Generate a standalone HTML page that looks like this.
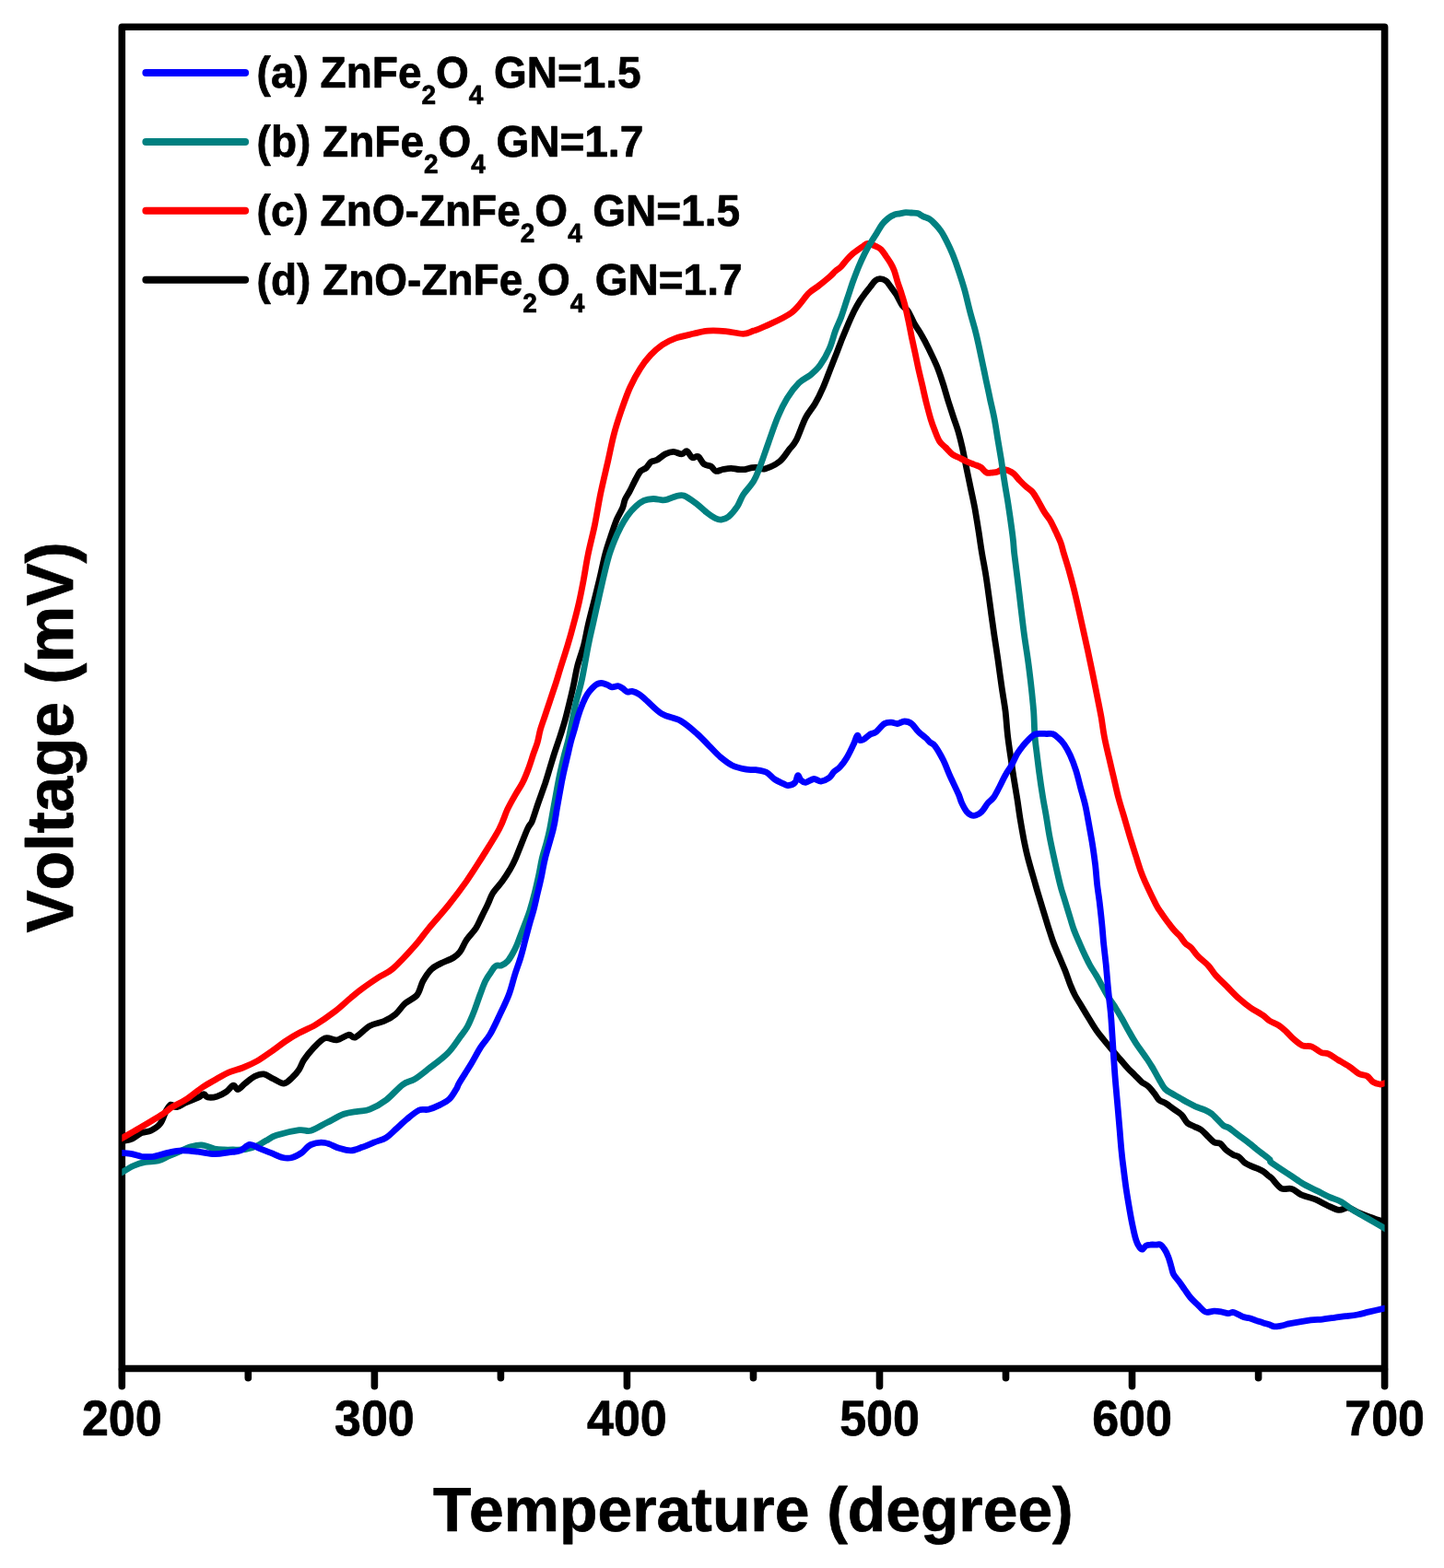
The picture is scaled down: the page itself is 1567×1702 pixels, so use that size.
<!DOCTYPE html>
<html lang="en">
<head>
<meta charset="utf-8">
<title>Voltage vs Temperature</title>
<style>
html,body{margin:0;padding:0;background:#fff;}
body{width:1567px;height:1702px;overflow:hidden;}
#chart{display:block;}
text{font-family:"Liberation Sans",sans-serif;font-weight:bold;fill:#000;stroke:#000;stroke-width:0.7px;stroke-linejoin:round;font-kerning:none;font-variant-ligatures:none;text-rendering:geometricPrecision;}
.crv{fill:none;stroke-width:6.8;stroke-linejoin:round;stroke-linecap:butt;}
.leg{font-size:46px;}
.sub{font-size:28px;}
.tick{font-size:52px;text-anchor:middle;}
</style>
</head>
<body>
<svg id="chart" width="1567" height="1702" viewBox="0 0 1567 1702">
<rect x="0" y="0" width="1567" height="1702" fill="#ffffff"/>
<g stroke="#000" stroke-width="7.6" fill="none" stroke-linecap="butt">
<rect x="132.3" y="29.2" width="1370.3" height="1456.3" stroke-linejoin="round"/>
<line x1="132.3" y1="1487.1" x2="132.3" y2="1504.8" stroke-linecap="round"/>
<line x1="406.4" y1="1487.1" x2="406.4" y2="1504.8" stroke-linecap="round"/>
<line x1="680.4" y1="1487.1" x2="680.4" y2="1504.8" stroke-linecap="round"/>
<line x1="954.5" y1="1487.1" x2="954.5" y2="1504.8" stroke-linecap="round"/>
<line x1="1228.5" y1="1487.1" x2="1228.5" y2="1504.8" stroke-linecap="round"/>
<line x1="1502.6" y1="1487.1" x2="1502.6" y2="1504.8" stroke-linecap="round"/>
<line x1="269.3" y1="1487.1" x2="269.3" y2="1495.8" stroke-linecap="round"/>
<line x1="543.4" y1="1487.1" x2="543.4" y2="1495.8" stroke-linecap="round"/>
<line x1="817.5" y1="1487.1" x2="817.5" y2="1495.8" stroke-linecap="round"/>
<line x1="1091.5" y1="1487.1" x2="1091.5" y2="1495.8" stroke-linecap="round"/>
<line x1="1365.6" y1="1487.1" x2="1365.6" y2="1495.8" stroke-linecap="round"/>
</g>
<svg x="132.3" y="0" width="1370.3" height="1702" viewBox="132.3 0 1370.3 1702" overflow="hidden">
<path class="crv" stroke="#000000" d="M128.3 1239.6C129.0 1239.4 129.8 1239.3 132.3 1238.7C134.8 1238.1 139.8 1237.6 143.4 1236.1C146.9 1234.6 150.2 1231.2 153.6 1229.7C157.0 1228.2 160.4 1228.9 163.8 1227.2C167.2 1225.5 171.3 1223.1 174.0 1219.5C176.8 1215.9 178.5 1208.9 180.4 1205.5C182.3 1202.1 183.6 1199.7 185.5 1199.1C187.4 1198.5 189.1 1202.1 191.9 1201.7C194.7 1201.2 198.3 1198.3 202.1 1196.6C205.9 1194.9 211.7 1192.9 214.9 1191.4C218.1 1190.0 219.5 1187.7 221.3 1187.6C223.0 1187.5 222.7 1190.5 225.1 1190.9C227.4 1191.4 231.9 1191.2 235.3 1190.2C238.7 1189.2 242.5 1187.1 245.5 1185.1C248.5 1183.1 251.0 1178.6 253.2 1178.2C255.3 1177.7 256.1 1182.9 258.3 1182.5C260.4 1182.2 262.9 1178.5 265.9 1176.1C268.9 1173.8 272.7 1170.2 276.1 1168.5C279.5 1166.8 282.9 1165.5 286.3 1165.9C289.7 1166.3 292.9 1169.3 296.6 1171.0C300.2 1172.7 304.6 1176.3 308.0 1176.1C311.4 1175.9 314.2 1172.3 317.0 1169.8C319.7 1167.2 322.5 1164.0 324.6 1160.8C326.8 1157.6 327.2 1154.4 329.7 1150.6C332.3 1146.8 336.1 1141.8 339.9 1137.8C343.8 1133.9 348.5 1128.4 352.7 1126.9C357.0 1125.4 361.2 1129.5 365.5 1128.9C369.7 1128.3 374.8 1123.8 378.2 1123.3C381.6 1122.8 382.1 1127.5 385.9 1125.8C389.7 1124.2 396.1 1116.5 401.2 1113.6C406.3 1110.7 411.8 1110.6 416.5 1108.5C421.2 1106.4 425.5 1104.0 429.3 1100.8C433.1 1097.6 435.6 1092.8 439.5 1089.3C443.4 1085.9 449.3 1084.0 452.6 1080.0C455.8 1076.0 456.4 1069.7 458.9 1065.1C461.5 1060.5 464.7 1055.5 467.9 1052.3C471.1 1049.1 474.0 1048.0 478.1 1045.9C482.1 1043.8 488.6 1041.7 492.1 1039.5C495.6 1037.4 496.8 1036.3 499.1 1033.2C501.5 1030.0 503.3 1024.7 506.2 1020.4C509.0 1016.1 513.6 1011.9 516.4 1007.6C519.1 1003.4 520.6 999.1 522.8 994.9C524.9 990.6 527.1 986.4 529.1 982.1C531.2 977.9 532.2 973.6 534.9 969.3C537.5 965.1 542.0 960.8 545.1 956.6C548.2 952.3 550.9 948.1 553.4 943.8C555.8 939.6 556.6 938.4 559.8 931.1C562.9 923.8 569.4 906.6 572.3 900.0C575.3 893.4 575.5 896.1 577.4 891.4C579.3 886.8 581.5 879.1 583.8 872.3C586.2 865.5 589.3 857.0 591.5 850.6C593.6 844.2 594.9 839.5 596.6 834.0C598.3 828.5 599.8 823.4 601.7 817.4C603.6 811.5 606.2 804.2 608.1 798.3C610.0 792.3 611.5 787.9 613.2 781.7C614.9 775.5 616.7 767.9 618.3 761.3C619.9 754.7 621.4 748.5 622.7 742.1C624.1 735.7 624.8 730.0 626.6 723.0C628.4 716.0 631.7 707.4 633.6 700.0C635.5 692.6 636.3 686.5 638.1 678.7C639.9 670.9 642.3 661.7 644.5 653.2C646.6 644.7 648.8 636.1 650.8 627.6C652.9 619.1 654.6 609.8 656.6 602.1C658.6 594.4 660.8 588.1 663.0 581.7C665.1 575.3 667.2 568.9 669.3 563.8C671.5 558.7 674.2 554.7 675.7 551.1C677.2 547.4 677.0 545.1 678.3 542.1C679.6 539.1 681.4 536.9 683.4 533.2C685.3 529.5 688.0 523.6 690.0 520.0C691.9 516.4 693.2 513.5 695.1 511.4C697.0 509.4 699.6 509.3 701.5 507.6C703.4 505.9 704.7 502.6 706.6 501.2C708.5 499.9 710.4 500.7 713.0 499.3C715.5 497.9 718.9 494.4 721.9 492.9C724.9 491.5 727.9 490.4 730.8 490.4C733.8 490.4 737.3 493.0 739.8 492.9C742.2 492.8 743.6 489.1 745.5 489.8C747.4 490.4 749.2 495.8 751.3 496.8C753.3 497.7 755.5 494.3 757.6 495.5C759.8 496.7 761.7 502.0 764.0 503.8C766.4 505.6 769.5 505.1 771.7 506.3C773.8 507.6 774.7 510.9 776.8 511.4C778.9 512.0 781.7 510.1 784.4 509.5C787.2 509.0 790.6 508.3 793.4 508.3C796.1 508.3 798.5 509.3 801.0 509.5C803.6 509.7 806.1 509.9 808.7 509.5C811.2 509.2 813.8 507.9 816.3 507.6C818.9 507.3 821.7 507.4 824.0 507.6C826.3 507.8 826.3 510.0 830.0 508.9C833.7 507.8 841.7 504.3 846.1 500.8C850.5 497.4 853.3 491.9 856.3 488.1C859.3 484.2 861.0 483.6 864.0 477.9C867.0 472.1 870.8 460.2 874.2 453.6C877.6 447.0 881.2 443.8 884.4 438.3C887.6 432.8 890.5 426.8 893.3 420.4C896.1 414.0 898.9 406.1 901.3 400.0C903.7 393.9 905.5 389.3 907.7 383.8C909.8 378.3 911.9 372.5 914.0 367.2C916.2 361.9 918.3 356.8 920.4 351.9C922.5 347.0 924.7 342.1 926.8 337.8C928.9 333.6 931.1 329.8 933.2 326.4C935.3 323.0 937.7 320.0 939.6 317.4C941.5 314.9 943.0 313.2 944.7 311.0C946.4 308.9 948.1 306.0 949.8 304.7C951.5 303.3 953.0 302.7 954.9 302.7C956.8 302.7 959.3 303.3 961.3 304.7C963.2 306.0 964.5 308.5 966.4 311.0C968.3 313.6 970.6 316.6 972.8 320.0C974.9 323.4 977.0 328.5 979.1 331.5C981.3 334.4 983.4 334.7 985.5 337.8C987.6 341.0 989.8 346.8 991.9 350.6C994.0 354.4 996.1 357.2 998.3 360.8C1000.4 364.4 1002.5 368.3 1004.7 372.3C1006.8 376.3 1008.9 380.5 1011.0 385.1C1013.2 389.7 1015.6 394.7 1017.7 400.0C1019.7 405.3 1021.5 410.6 1023.4 416.6C1025.3 422.5 1027.2 429.6 1029.1 435.7C1031.1 441.9 1033.1 448.1 1034.9 453.6C1036.7 459.1 1038.4 463.4 1040.0 468.9C1041.6 474.5 1043.0 480.2 1044.5 486.8C1045.9 493.4 1047.4 501.3 1048.9 508.5C1050.4 515.7 1051.9 523.0 1053.4 530.2C1054.9 537.4 1056.5 544.4 1057.9 551.9C1059.2 559.3 1060.4 566.8 1061.7 574.9C1063.0 582.9 1064.1 591.6 1065.5 600.0C1066.9 608.4 1068.5 616.0 1070.0 625.5C1071.5 635.1 1073.0 646.8 1074.5 657.4C1075.9 668.1 1077.5 679.8 1078.9 689.3C1080.3 698.9 1081.4 705.3 1082.8 714.9C1084.1 724.4 1085.8 737.2 1087.2 746.8C1088.6 756.3 1090.0 763.6 1091.1 772.3C1092.1 781.0 1092.6 790.8 1093.6 799.1C1094.6 807.4 1095.7 814.7 1096.8 822.1C1097.9 829.6 1098.8 836.4 1100.0 843.8C1101.2 851.3 1102.6 859.3 1103.8 866.8C1105.0 874.2 1105.8 881.3 1107.0 888.5C1108.2 895.7 1109.5 903.2 1110.8 910.2C1112.2 917.2 1113.2 922.3 1115.3 930.6C1117.4 938.9 1121.5 952.5 1123.6 960.0C1125.7 967.5 1126.5 970.0 1128.1 975.3C1129.7 980.6 1131.5 986.4 1133.2 991.9C1134.9 997.4 1136.6 1003.2 1138.3 1008.5C1140.0 1013.8 1141.5 1018.7 1143.4 1023.8C1145.3 1028.9 1147.6 1034.0 1149.8 1039.1C1151.9 1044.2 1154.2 1049.6 1156.2 1054.4C1158.1 1059.3 1159.6 1064.2 1161.3 1068.5C1163.0 1072.7 1164.2 1075.9 1166.4 1080.0C1168.5 1084.0 1171.5 1088.5 1174.0 1092.7C1176.6 1097.0 1178.9 1101.0 1181.7 1105.5C1184.5 1110.0 1187.4 1115.1 1190.6 1119.5C1193.8 1124.0 1196.6 1127.2 1200.8 1132.3C1205.0 1137.4 1212.0 1145.6 1215.7 1150.0C1219.5 1154.4 1220.8 1156.2 1223.4 1158.9C1225.9 1161.7 1228.5 1164.0 1231.1 1166.6C1233.6 1169.1 1236.2 1172.1 1238.7 1174.3C1241.3 1176.4 1244.0 1177.2 1246.4 1179.4C1248.7 1181.5 1250.8 1184.6 1252.8 1187.0C1254.7 1189.5 1255.7 1192.2 1257.9 1194.0C1260.0 1195.8 1263.0 1196.3 1265.5 1197.9C1268.1 1199.5 1270.4 1201.6 1273.2 1203.6C1275.9 1205.6 1279.6 1207.4 1282.1 1210.0C1284.7 1212.5 1286.1 1216.8 1288.5 1218.9C1290.8 1221.0 1293.6 1221.5 1296.1 1222.8C1298.7 1224.0 1301.3 1224.7 1303.8 1226.6C1306.4 1228.5 1309.1 1232.0 1311.5 1234.2C1313.8 1236.5 1315.7 1238.8 1317.8 1240.0C1320.0 1241.2 1322.1 1239.9 1324.2 1241.3C1326.4 1242.6 1328.3 1246.3 1330.6 1248.3C1332.9 1250.3 1335.9 1252.1 1338.3 1253.4C1340.6 1254.7 1342.5 1254.4 1344.6 1255.9C1346.8 1257.4 1348.7 1260.6 1351.0 1262.3C1353.4 1264.0 1356.3 1265.1 1358.7 1266.1C1361.0 1267.2 1362.9 1267.7 1365.1 1268.7C1367.2 1269.7 1369.5 1270.6 1371.4 1271.9C1373.4 1273.2 1375.1 1275.2 1376.6 1276.4C1378.0 1277.5 1377.7 1276.7 1380.0 1278.9C1382.3 1281.2 1386.7 1288.0 1390.4 1289.9C1394.0 1291.8 1398.2 1289.2 1401.8 1290.4C1405.5 1291.5 1407.8 1294.9 1412.1 1296.8C1416.3 1298.7 1422.7 1300.0 1427.4 1301.9C1432.0 1303.8 1435.9 1306.3 1440.1 1308.3C1444.4 1310.2 1449.1 1312.9 1452.9 1313.4C1456.7 1313.8 1459.7 1310.4 1463.1 1310.8C1466.5 1311.2 1469.5 1314.2 1473.3 1315.9C1477.1 1317.6 1481.2 1319.2 1486.1 1321.0C1491.0 1322.8 1499.2 1325.5 1502.6 1326.6C1506.0 1327.8 1505.9 1327.8 1506.6 1328.0"/>
<path class="crv" stroke="#ff0000" d="M128.3 1237.6C129.0 1237.3 128.5 1237.5 132.3 1235.4C136.1 1233.2 143.7 1229.0 151.1 1224.6C158.4 1220.3 170.6 1213.1 176.6 1209.3C182.5 1205.5 182.5 1204.3 186.8 1201.7C191.0 1199.0 196.6 1196.9 202.1 1193.2C207.6 1189.6 214.4 1183.7 220.0 1180.0C225.5 1176.3 230.6 1173.7 235.3 1171.0C240.0 1168.4 243.4 1166.1 248.1 1164.1C252.7 1162.1 258.3 1161.1 263.4 1159.0C268.5 1157.0 273.6 1154.8 278.7 1151.9C283.8 1149.0 288.5 1145.5 294.0 1141.7C299.5 1137.8 306.8 1132.3 311.9 1128.9C317.0 1125.5 319.5 1124.0 324.6 1121.3C329.7 1118.5 336.1 1116.1 342.5 1112.3C348.9 1108.5 356.5 1103.2 362.9 1098.3C369.3 1093.4 375.7 1087.2 380.8 1083.0C385.9 1078.7 388.4 1076.5 393.6 1072.8C398.7 1069.0 405.9 1064.1 411.4 1060.5C417.0 1056.9 420.3 1056.7 426.7 1051.1C433.2 1045.4 443.6 1034.0 450.0 1026.8C456.4 1019.5 459.1 1015.1 465.3 1007.6C471.5 1000.2 480.2 990.6 487.0 982.1C493.8 973.6 500.2 965.1 506.2 956.6C512.1 948.1 516.8 940.5 522.8 931.1C528.7 921.6 537.1 908.7 541.7 900.0C546.3 891.3 547.7 885.0 550.6 878.7C553.6 872.4 556.8 867.0 559.6 862.1C562.3 857.2 564.9 854.0 567.2 849.3C569.6 844.7 571.7 839.1 573.6 834.0C575.5 828.9 577.1 823.4 578.7 818.7C580.3 814.0 581.9 810.4 583.2 805.9C584.5 801.5 585.0 796.8 586.4 791.9C587.8 787.0 589.8 781.7 591.5 776.6C593.2 771.5 594.7 767.0 596.6 761.3C598.5 755.5 601.0 748.1 603.0 742.1C604.9 736.2 605.9 732.5 608.1 725.5C610.3 718.5 613.8 707.8 616.1 700.0C618.5 692.2 620.1 686.5 622.1 678.7C624.2 670.9 626.6 661.7 628.5 653.2C630.4 644.7 632.0 636.1 633.6 627.6C635.2 619.1 636.1 611.7 638.1 602.1C640.0 592.5 643.1 581.1 645.4 570.0C647.7 558.9 649.4 547.0 651.8 535.4C654.2 523.8 657.4 510.9 659.8 500.3C662.2 489.6 663.8 480.6 666.2 471.6C668.5 462.5 671.2 454.5 674.1 446.0C677.1 437.5 680.2 428.2 683.7 420.5C687.2 412.8 691.1 405.6 694.9 399.8C698.6 393.9 702.0 389.7 706.0 385.4C710.0 381.2 714.3 377.3 718.8 374.2C723.3 371.2 727.6 369.1 733.2 367.1C738.7 365.1 746.5 363.6 752.3 362.3C758.2 360.9 762.4 359.5 768.3 359.1C774.1 358.6 781.0 359.0 787.4 359.6C793.8 360.1 801.5 362.4 806.5 362.3C811.6 362.2 813.8 360.4 817.7 359.1C821.6 357.8 823.1 357.6 830.0 354.3C836.9 351.0 851.5 345.1 859.3 339.1C867.2 333.2 872.5 323.4 877.2 318.7C881.9 314.0 883.6 314.0 887.4 311.0C891.2 308.1 896.8 303.6 900.0 300.8C903.2 298.1 904.3 296.4 906.4 294.4C908.5 292.5 910.6 291.5 912.8 289.3C914.9 287.2 917.0 284.0 919.1 281.7C921.3 279.3 923.6 277.0 925.5 275.3C927.4 273.6 928.7 272.9 930.6 271.5C932.5 270.1 935.1 268.2 937.0 267.0C938.9 265.8 939.8 264.3 942.1 264.5C944.5 264.6 948.7 266.6 951.1 267.6C953.4 268.7 954.5 269.1 956.2 270.8C957.9 272.5 959.6 275.4 961.3 277.9C963.0 280.3 964.9 283.0 966.4 285.5C967.9 288.1 968.9 289.8 970.2 293.2C971.5 296.6 972.8 301.9 974.0 305.9C975.3 310.0 976.6 313.4 977.9 317.4C979.1 321.5 980.4 325.3 981.7 330.2C983.0 335.1 984.2 340.8 985.5 346.8C986.8 352.7 988.1 359.8 989.3 365.9C990.6 372.1 992.0 378.1 993.2 383.8C994.4 389.5 995.3 394.1 996.6 400.0C997.9 405.9 999.6 412.8 1001.1 419.1C1002.5 425.5 1004.0 432.3 1005.5 438.3C1007.0 444.2 1008.5 450.0 1010.0 454.9C1011.5 459.8 1012.9 463.6 1014.5 467.6C1016.1 471.7 1017.7 476.2 1019.6 479.1C1021.5 482.1 1023.6 483.2 1025.9 485.5C1028.3 487.9 1031.1 491.3 1033.6 493.2C1036.2 495.1 1038.7 495.7 1041.3 497.0C1043.8 498.3 1046.4 499.7 1048.9 500.8C1051.5 502.0 1054.0 503.0 1056.6 504.0C1059.1 505.1 1061.9 505.7 1064.2 507.2C1066.6 508.7 1068.5 512.0 1070.6 513.0C1072.7 513.9 1075.1 513.1 1077.0 513.0C1078.9 512.8 1080.4 512.8 1082.1 512.3C1083.8 511.8 1085.3 510.1 1087.2 509.8C1089.1 509.4 1091.5 509.7 1093.6 510.4C1095.7 511.1 1097.8 512.4 1100.0 514.2C1102.1 516.0 1104.2 519.0 1106.4 521.3C1108.5 523.5 1110.4 525.5 1112.7 527.6C1115.1 529.8 1118.1 531.2 1120.4 534.0C1122.7 536.8 1124.7 540.6 1126.8 544.2C1128.9 547.8 1131.0 552.3 1133.2 555.7C1135.3 559.1 1137.4 561.0 1139.5 564.6C1141.7 568.3 1144.0 573.4 1145.9 577.4C1147.8 581.5 1149.6 585.1 1151.0 588.9C1152.4 592.7 1152.7 595.0 1154.2 600.0C1155.7 605.0 1158.2 612.8 1160.0 619.1C1161.8 625.5 1163.4 631.5 1165.1 638.3C1166.8 645.1 1168.5 652.5 1170.2 660.0C1171.9 667.4 1173.6 675.3 1175.3 683.0C1177.0 690.6 1178.7 698.1 1180.4 705.9C1182.1 713.8 1183.8 721.9 1185.5 730.2C1187.2 738.5 1189.0 747.6 1190.6 755.7C1192.2 763.8 1193.8 771.4 1195.1 778.7C1196.3 785.9 1196.9 791.9 1198.3 799.1C1199.6 806.4 1201.7 814.7 1203.4 822.1C1205.1 829.6 1206.8 836.6 1208.5 843.8C1210.2 851.0 1211.7 858.3 1213.6 865.5C1215.5 872.7 1217.8 880.0 1220.0 887.2C1222.1 894.4 1224.2 901.9 1226.3 908.9C1228.5 915.9 1230.4 922.3 1232.7 929.3C1235.0 936.3 1236.4 942.3 1240.0 951.0C1243.6 959.8 1251.0 974.9 1254.4 981.7C1257.9 988.5 1258.7 988.7 1260.8 991.9C1262.9 995.1 1265.1 998.0 1267.2 1000.8C1269.3 1003.7 1271.5 1006.7 1273.6 1009.1C1275.7 1011.6 1277.8 1013.1 1280.0 1015.5C1282.1 1018.0 1284.2 1021.6 1286.3 1023.8C1288.5 1026.0 1290.4 1026.6 1292.7 1028.9C1295.0 1031.3 1296.9 1034.7 1300.0 1037.9C1303.1 1041.0 1308.1 1044.7 1311.2 1048.1C1314.4 1051.5 1315.5 1054.4 1318.9 1058.3C1322.3 1062.1 1327.4 1066.8 1331.7 1071.0C1335.9 1075.3 1340.2 1080.0 1344.4 1083.8C1348.7 1087.6 1352.9 1091.0 1357.2 1094.0C1361.4 1097.0 1366.5 1099.3 1369.9 1101.7C1373.4 1104.0 1374.6 1106.1 1377.6 1108.0C1380.6 1110.0 1384.8 1111.2 1387.8 1113.1C1390.8 1115.1 1392.9 1117.2 1395.5 1119.5C1398.0 1121.9 1400.2 1124.6 1403.1 1127.2C1406.1 1129.7 1409.9 1133.4 1413.3 1134.8C1416.7 1136.3 1420.2 1134.8 1423.6 1136.1C1427.0 1137.4 1430.8 1141.2 1433.8 1142.5C1436.7 1143.8 1438.4 1142.5 1441.4 1143.8C1444.4 1145.1 1447.8 1147.8 1451.6 1150.2C1455.5 1152.5 1460.6 1155.3 1464.4 1157.8C1468.2 1160.4 1471.4 1163.8 1474.6 1165.5C1477.8 1167.2 1481.0 1166.5 1483.5 1168.0C1486.1 1169.5 1487.6 1172.9 1489.9 1174.4C1492.3 1175.9 1495.5 1176.7 1497.6 1177.0C1499.7 1177.2 1501.1 1176.1 1502.6 1175.7C1504.1 1175.3 1505.9 1174.8 1506.6 1174.7"/>
<path class="crv" stroke="#008080" d="M128.3 1274.8C129.0 1274.4 129.6 1274.1 132.3 1272.5C135.0 1271.0 140.5 1267.4 144.7 1265.5C148.9 1263.6 153.0 1262.2 157.4 1261.3C161.9 1260.4 167.2 1261.1 171.5 1260.0C175.7 1259.0 178.9 1256.7 183.0 1254.9C187.0 1253.2 191.9 1251.2 195.7 1249.6C199.6 1247.9 202.1 1246.2 205.9 1245.1C209.8 1244.0 214.2 1242.6 218.7 1242.9C223.2 1243.2 228.7 1246.1 232.7 1247.0C236.8 1247.9 239.5 1247.9 242.9 1248.0C246.4 1248.2 249.3 1248.1 253.2 1248.0C257.0 1248.0 261.7 1248.3 265.9 1247.6C270.2 1246.9 274.9 1245.4 278.7 1243.8C282.5 1242.2 285.3 1240.0 288.9 1238.1C292.4 1236.2 294.0 1234.2 300.0 1232.3C306.0 1230.4 318.4 1227.5 324.6 1226.7C330.9 1225.8 332.3 1228.6 337.4 1227.2C342.5 1225.8 349.3 1221.2 355.3 1218.3C361.2 1215.3 367.6 1211.3 373.1 1209.3C378.7 1207.3 383.8 1207.1 388.4 1206.3C393.1 1205.4 396.1 1206.3 401.2 1204.2C406.3 1202.2 413.1 1198.5 419.1 1194.0C425.0 1189.5 431.8 1181.2 436.9 1177.4C442.1 1173.6 445.3 1174.3 450.0 1171.4C454.7 1168.5 459.4 1164.6 465.3 1159.9C471.3 1155.2 480.2 1148.9 485.7 1143.3C491.3 1137.8 494.9 1131.6 498.5 1126.7C502.1 1121.8 504.7 1119.1 507.4 1114.0C510.2 1108.9 512.9 1101.8 515.1 1096.1C517.3 1090.4 518.9 1085.2 520.8 1080.0C522.8 1074.8 524.6 1069.3 526.6 1065.1C528.6 1060.9 531.0 1057.6 533.0 1054.9C534.9 1052.1 536.2 1049.6 538.1 1048.5C540.0 1047.3 542.3 1048.7 544.4 1047.8C546.6 1047.0 548.9 1045.4 550.8 1043.4C552.7 1041.3 554.2 1038.7 555.9 1035.7C557.6 1032.7 559.6 1028.9 561.0 1025.5C562.5 1022.1 563.3 1019.3 564.9 1015.3C566.4 1011.3 568.6 1005.8 570.3 1001.3C572.0 996.8 573.2 993.8 574.9 988.5C576.5 983.2 578.6 975.7 580.2 969.3C581.8 962.9 583.2 956.6 584.6 950.2C586.0 943.8 587.0 937.0 588.4 931.1C589.8 925.2 591.6 920.2 593.0 915.0C594.4 909.8 595.4 906.0 596.6 900.0C597.8 894.0 599.1 885.9 600.4 878.7C601.7 871.5 603.1 863.4 604.3 857.0C605.5 850.6 606.2 846.4 607.5 840.4C608.8 834.4 610.3 827.7 611.9 821.3C613.5 814.9 615.5 808.5 617.0 802.1C618.5 795.7 619.5 789.4 620.8 783.0C622.1 776.6 623.0 771.3 624.7 763.8C626.4 756.3 629.0 748.9 631.3 738.3C633.6 727.7 636.5 709.9 638.5 700.0C640.4 690.1 641.4 686.5 643.2 678.7C644.9 670.9 647.0 661.7 648.9 653.2C650.8 644.7 652.8 635.7 654.7 627.6C656.6 619.5 658.4 611.5 660.4 604.7C662.4 597.9 664.7 592.1 666.8 586.8C668.9 581.5 670.8 577.2 673.2 572.8C675.5 568.3 678.1 563.8 680.8 560.0C683.6 556.2 686.8 552.5 689.8 549.8C692.7 547.0 695.5 544.8 698.7 543.4C701.9 542.0 705.5 541.6 708.9 541.5C712.3 541.4 716.6 542.7 719.1 542.8C721.7 542.9 721.9 542.8 724.2 542.1C726.6 541.5 730.2 539.6 733.2 538.9C736.1 538.2 738.4 536.8 742.1 538.0C745.8 539.3 751.4 543.5 755.5 546.5C759.6 549.6 763.2 553.5 766.7 556.1C770.1 558.8 773.6 561.2 776.2 562.5C778.9 563.8 780.2 564.4 782.6 564.1C785.0 563.8 787.7 563.3 790.6 560.9C793.5 558.5 797.5 553.7 800.2 549.7C802.8 545.7 803.6 541.5 806.5 537.0C809.5 532.5 814.8 527.4 817.7 522.6C820.6 517.8 821.4 515.2 824.1 508.3C826.8 501.3 830.5 490.0 833.8 480.8C837.1 471.5 840.6 460.8 844.0 452.7C847.4 444.6 850.4 438.5 854.2 432.3C858.0 426.1 862.7 420.0 867.0 415.7C871.2 411.4 875.9 410.0 879.7 406.8C883.6 403.6 886.6 401.2 889.9 396.6C893.3 391.9 897.3 384.9 900.0 378.7C902.7 372.5 904.3 365.3 906.4 359.5C908.5 353.8 910.6 350.0 912.8 344.2C914.9 338.5 917.0 331.5 919.1 325.1C921.3 318.7 923.4 311.9 925.5 305.9C927.7 300.0 929.8 294.4 931.9 289.3C934.0 284.2 936.2 279.6 938.3 275.3C940.4 271.0 942.5 267.4 944.7 263.8C946.8 260.2 948.9 257.0 951.1 253.6C953.2 250.2 955.3 246.2 957.4 243.4C959.6 240.6 961.7 238.7 963.8 237.0C965.9 235.3 968.1 234.0 970.2 233.2C972.3 232.3 974.5 232.3 976.6 231.9C978.7 231.5 980.8 230.8 983.0 230.6C985.1 230.5 987.2 230.9 989.3 231.0C991.5 231.2 993.6 230.8 995.7 231.5C997.9 232.2 1000.0 234.1 1002.1 235.1C1004.2 236.1 1006.4 236.3 1008.5 237.7C1010.6 239.0 1012.7 241.2 1014.9 243.4C1017.0 245.6 1019.1 247.9 1021.3 251.1C1023.4 254.2 1025.5 258.3 1027.6 262.5C1029.8 266.8 1031.9 271.3 1034.0 276.6C1036.1 281.9 1038.3 288.1 1040.4 294.4C1042.5 300.8 1044.7 307.2 1046.8 314.9C1048.9 322.5 1051.0 332.3 1053.2 340.4C1055.3 348.5 1057.2 353.4 1059.5 363.4C1061.9 373.3 1065.6 391.3 1067.4 400.0C1069.3 408.7 1069.4 409.8 1070.6 415.3C1071.8 420.8 1073.1 426.8 1074.4 433.2C1075.8 439.6 1077.5 446.4 1078.9 453.6C1080.3 460.8 1081.5 468.9 1082.7 476.6C1084.0 484.2 1085.4 492.1 1086.6 499.6C1087.7 507.0 1088.6 513.8 1089.8 521.3C1090.9 528.7 1092.4 536.8 1093.6 544.2C1094.8 551.7 1095.8 559.1 1096.8 565.9C1097.7 572.7 1098.7 579.4 1099.3 585.1C1100.0 590.7 1099.9 593.3 1100.6 600.0C1101.4 606.7 1102.6 616.0 1103.8 625.5C1105.0 635.1 1106.4 646.8 1107.6 657.4C1108.9 668.1 1110.2 679.8 1111.5 689.3C1112.8 698.9 1114.1 706.4 1115.3 714.9C1116.5 723.4 1117.4 730.8 1118.5 740.4C1119.6 750.0 1120.9 762.5 1121.7 772.3C1122.4 782.1 1122.3 791.1 1123.0 799.1C1123.6 807.2 1124.7 813.8 1125.5 820.8C1126.4 827.9 1127.1 834.2 1128.1 841.3C1129.0 848.3 1130.1 855.7 1131.3 863.0C1132.4 870.2 1133.8 877.2 1135.1 884.7C1136.4 892.1 1137.5 900.2 1138.9 907.6C1140.3 915.1 1141.5 920.6 1143.4 929.3C1145.3 938.1 1148.5 952.3 1150.4 960.0C1152.3 967.7 1153.3 970.0 1154.9 975.3C1156.5 980.6 1158.3 986.4 1160.0 991.9C1161.7 997.4 1163.2 1003.2 1165.1 1008.5C1167.0 1013.8 1169.3 1018.9 1171.5 1023.8C1173.6 1028.7 1175.9 1033.8 1177.9 1037.9C1179.8 1041.9 1181.0 1044.7 1183.0 1048.1C1184.9 1051.5 1187.2 1054.7 1189.3 1058.3C1191.5 1061.9 1193.6 1065.9 1195.7 1069.8C1197.9 1073.6 1199.8 1077.4 1202.1 1081.3C1204.4 1085.1 1207.2 1088.7 1209.8 1092.7C1212.3 1096.8 1214.9 1101.0 1217.4 1105.5C1220.0 1110.0 1222.5 1115.1 1225.1 1119.5C1227.6 1124.0 1229.4 1127.2 1232.7 1132.3C1236.1 1137.4 1242.0 1145.3 1245.1 1150.0C1248.2 1154.7 1249.3 1156.6 1251.5 1160.2C1253.6 1163.8 1255.7 1168.1 1257.9 1171.7C1260.0 1175.3 1261.9 1179.4 1264.2 1181.9C1266.6 1184.5 1269.1 1185.3 1271.9 1187.0C1274.7 1188.7 1278.1 1190.5 1280.8 1192.1C1283.6 1193.7 1285.7 1195.1 1288.5 1196.6C1291.3 1198.1 1294.2 1199.7 1297.4 1201.1C1300.6 1202.4 1304.7 1203.5 1307.6 1204.9C1310.6 1206.3 1313.0 1207.5 1315.3 1209.3C1317.6 1211.2 1319.5 1213.6 1321.7 1215.7C1323.8 1217.9 1326.1 1220.7 1328.1 1222.1C1330.0 1223.5 1331.0 1222.8 1333.2 1224.0C1335.3 1225.3 1338.3 1227.9 1340.8 1229.8C1343.4 1231.7 1345.9 1233.6 1348.5 1235.5C1351.0 1237.4 1353.6 1239.2 1356.1 1241.3C1358.7 1243.3 1361.2 1245.6 1363.8 1247.6C1366.3 1249.7 1369.1 1251.6 1371.4 1253.4C1373.8 1255.2 1376.4 1257.0 1377.8 1258.5C1379.3 1260.0 1376.4 1259.6 1380.0 1262.3C1383.6 1265.1 1393.5 1271.3 1399.3 1275.1C1405.1 1278.9 1409.5 1282.3 1414.6 1285.3C1419.7 1288.3 1425.2 1290.6 1429.9 1292.9C1434.6 1295.3 1438.4 1297.4 1442.7 1299.3C1446.9 1301.2 1451.2 1302.1 1455.4 1304.4C1459.7 1306.8 1463.5 1310.4 1468.2 1313.4C1472.9 1316.3 1477.8 1319.0 1483.5 1322.3C1489.3 1325.6 1498.8 1331.1 1502.6 1333.3C1506.4 1335.5 1505.9 1335.2 1506.6 1335.6"/>
<path class="crv" stroke="#0000ff" d="M128.3 1251.0C129.0 1251.1 129.8 1251.1 132.3 1251.4C134.8 1251.7 139.8 1252.1 143.4 1252.7C146.9 1253.4 149.8 1254.8 153.6 1255.3C157.4 1255.7 161.7 1255.9 166.4 1255.3C171.0 1254.6 176.6 1252.5 181.7 1251.4C186.8 1250.4 191.5 1249.1 197.0 1248.9C202.5 1248.7 208.9 1249.5 214.9 1250.2C220.8 1250.8 227.2 1252.6 232.7 1252.7C238.3 1252.8 243.4 1251.6 248.1 1250.9C252.7 1250.3 257.0 1250.3 260.8 1248.9C264.6 1247.5 267.6 1242.9 271.0 1242.5C274.4 1242.1 277.4 1244.8 281.2 1246.3C285.1 1247.8 289.7 1249.7 294.0 1251.4C298.3 1253.1 302.9 1255.7 306.8 1256.5C310.6 1257.4 313.6 1257.4 317.0 1256.5C320.4 1255.7 323.8 1253.8 327.2 1251.4C330.6 1249.1 333.1 1244.3 337.4 1242.5C341.7 1240.7 347.6 1239.8 352.7 1240.5C357.8 1241.1 363.3 1244.9 368.0 1246.3C372.7 1247.7 376.5 1249.1 380.8 1248.9C385.0 1248.7 389.3 1246.5 393.6 1245.1C397.8 1243.6 402.1 1241.7 406.3 1239.9C410.6 1238.2 415.3 1237.2 419.1 1234.8C422.9 1232.5 425.5 1229.3 429.3 1225.9C433.1 1222.5 437.8 1217.9 442.1 1214.4C446.3 1210.9 451.0 1206.7 454.8 1205.0C458.6 1203.3 461.2 1205.2 465.0 1204.2C468.9 1203.2 474.0 1201.0 477.8 1199.1C481.6 1197.2 485.0 1195.7 488.0 1192.7C491.0 1189.7 493.9 1184.2 495.7 1181.2C497.4 1178.3 495.9 1179.6 498.5 1175.2C501.1 1170.8 507.4 1161.2 511.3 1154.8C515.1 1148.4 518.1 1142.3 521.5 1136.9C524.9 1131.6 528.3 1128.7 531.7 1122.9C535.1 1117.2 538.5 1109.6 541.9 1102.5C545.3 1095.3 549.3 1087.3 552.1 1080.0C554.9 1072.7 556.4 1065.4 558.5 1058.7C560.6 1051.9 563.0 1045.9 564.9 1039.5C566.8 1033.2 568.3 1026.8 570.0 1020.4C571.7 1014.0 573.6 1006.6 575.1 1001.3C576.6 995.9 577.5 993.8 578.9 988.5C580.3 983.2 581.9 975.7 583.4 969.3C584.9 963.0 586.5 956.6 587.8 950.2C589.2 943.8 589.6 939.4 591.7 931.1C593.8 922.7 598.3 908.7 600.4 900.0C602.5 891.3 603.0 885.9 604.2 878.7C605.5 871.5 606.9 863.4 608.1 857.0C609.2 850.6 610.0 846.4 611.3 840.4C612.5 834.4 614.3 827.2 615.7 821.3C617.1 815.3 618.3 809.6 619.6 804.7C620.8 799.8 622.1 796.4 623.4 791.9C624.7 787.4 625.7 782.5 627.2 777.9C628.7 773.2 630.6 767.9 632.3 763.8C634.0 759.8 635.7 756.4 637.4 753.6C639.1 750.8 640.8 749.0 642.5 747.2C644.2 745.4 645.9 743.7 647.6 742.8C649.3 741.8 650.8 741.4 652.7 741.5C654.7 741.6 657.2 742.7 659.1 743.4C661.0 744.1 662.3 745.7 664.2 745.9C666.1 746.2 668.7 744.5 670.6 744.7C672.5 744.9 674.0 746.2 675.7 747.2C677.4 748.3 679.1 750.5 680.8 751.1C682.5 751.6 683.8 750.0 685.9 750.4C688.0 750.8 691.0 752.0 693.6 753.6C696.1 755.2 697.1 756.4 701.2 760.0C705.4 763.5 712.0 771.1 718.3 774.9C724.5 778.6 732.3 778.9 738.7 782.5C745.1 786.2 751.5 792.1 756.6 796.6C761.7 801.0 765.1 805.1 769.3 809.3C773.6 813.6 777.9 818.5 782.1 822.1C786.4 825.7 790.2 828.9 794.9 831.0C799.5 833.2 805.7 834.4 809.9 835.2C814.1 836.0 816.5 835.2 820.1 835.7C823.8 836.2 828.2 836.6 831.6 838.3C835.0 840.0 837.5 843.9 840.6 845.9C843.6 848.0 847.6 849.5 850.0 850.6C852.4 851.7 853.0 852.9 855.1 852.6C857.2 852.4 861.0 851.2 862.8 849.3C864.6 847.5 864.8 842.1 865.8 841.7C866.9 841.2 867.7 845.5 869.1 846.8C870.5 848.1 871.9 849.5 874.3 849.3C876.6 849.1 880.4 845.7 883.2 845.5C885.9 845.3 888.1 848.3 890.8 848.1C893.6 847.8 897.4 845.9 899.8 844.2C902.1 842.5 903.0 839.8 904.9 837.8C906.8 835.9 908.9 835.3 911.3 832.7C913.6 830.2 916.4 826.8 918.9 822.5C921.5 818.3 924.7 811.3 926.6 807.2C928.5 803.2 929.3 798.9 930.4 798.3C931.5 797.6 931.7 802.7 933.0 803.4C934.2 804.0 936.2 803.2 938.1 802.1C940.0 801.0 942.3 798.3 944.4 797.0C946.6 795.7 948.3 796.4 950.8 794.4C953.4 792.5 957.0 787.2 959.8 785.5C962.5 783.8 965.1 784.2 967.4 784.2C969.8 784.2 971.5 785.7 973.8 785.5C976.1 785.3 978.9 783.0 981.5 783.0C984.0 783.0 986.6 783.6 989.1 785.5C991.7 787.4 994.2 791.9 996.8 794.4C999.3 797.0 1002.3 798.9 1004.4 800.8C1006.6 802.7 1007.8 804.4 1009.5 805.9C1011.2 807.4 1012.3 806.6 1014.6 809.8C1017.0 813.0 1020.8 819.5 1023.6 825.1C1026.3 830.6 1028.5 836.8 1031.2 842.9C1034.0 849.0 1037.9 856.9 1040.0 861.7C1042.1 866.5 1042.3 868.7 1043.8 871.9C1045.3 875.1 1047.2 878.7 1048.9 880.8C1050.6 883.0 1052.3 884.2 1054.0 884.9C1055.7 885.6 1057.2 885.6 1059.1 884.9C1061.1 884.2 1063.4 883.0 1065.5 880.8C1067.7 878.7 1069.8 874.4 1071.9 871.9C1074.0 869.3 1076.2 868.5 1078.3 865.5C1080.4 862.5 1082.5 858.1 1084.7 854.0C1086.8 850.0 1088.9 845.1 1091.1 841.3C1093.2 837.4 1095.3 834.9 1097.4 831.1C1099.6 827.2 1101.7 821.9 1103.8 818.3C1105.9 814.7 1108.1 812.0 1110.2 809.4C1112.3 806.7 1114.5 804.4 1116.6 802.3C1118.7 800.3 1120.8 798.2 1123.0 797.2C1125.1 796.2 1127.2 796.4 1129.3 796.3C1131.5 796.2 1133.6 796.5 1135.7 796.6C1137.9 796.6 1140.0 795.8 1142.1 796.6C1144.2 797.3 1146.4 799.1 1148.5 801.1C1150.6 803.0 1152.7 805.0 1154.9 808.1C1157.0 811.2 1159.1 814.9 1161.3 819.6C1163.4 824.2 1165.7 830.2 1167.6 836.2C1169.5 842.1 1171.0 848.9 1172.7 855.3C1174.4 861.7 1176.4 867.9 1177.8 874.4C1179.3 881.0 1180.4 887.8 1181.7 894.9C1182.9 901.9 1184.3 909.1 1185.5 916.6C1186.7 924.0 1187.8 932.3 1188.7 939.5C1189.5 946.8 1189.9 953.4 1190.6 960.0C1191.4 966.6 1192.3 972.1 1193.2 979.1C1194.0 986.2 1195.0 994.7 1195.7 1002.1C1196.5 1009.6 1196.9 1016.4 1197.6 1023.8C1198.4 1031.3 1199.4 1039.3 1200.2 1046.8C1200.9 1054.2 1201.5 1061.7 1202.1 1068.5C1202.7 1075.3 1203.4 1081.3 1204.0 1087.6C1204.7 1094.0 1205.2 1096.4 1205.9 1106.8C1206.7 1117.2 1207.9 1138.5 1208.7 1150.0C1209.5 1161.5 1209.9 1167.0 1210.6 1175.5C1211.3 1184.0 1212.2 1192.5 1212.9 1201.1C1213.7 1209.6 1214.4 1218.1 1215.1 1226.6C1215.8 1235.1 1216.5 1244.7 1217.3 1252.1C1218.0 1259.6 1218.8 1264.9 1219.6 1271.3C1220.4 1277.6 1221.0 1283.1 1222.1 1290.4C1223.2 1297.7 1225.0 1308.4 1226.2 1315.3C1227.4 1322.2 1228.2 1326.6 1229.4 1331.9C1230.5 1337.2 1232.0 1343.6 1233.2 1347.2C1234.4 1350.8 1235.3 1352.1 1236.4 1353.6C1237.4 1355.1 1238.4 1356.4 1239.6 1356.2C1240.7 1355.9 1241.9 1353.2 1243.4 1352.3C1244.9 1351.5 1246.6 1351.3 1248.5 1351.1C1250.4 1350.8 1253.1 1351.1 1254.9 1351.1C1256.7 1351.1 1257.9 1350.2 1259.3 1351.1C1260.8 1351.9 1262.4 1354.0 1263.8 1356.2C1265.2 1358.3 1266.5 1360.8 1267.6 1363.8C1268.8 1366.8 1269.9 1370.8 1270.8 1374.0C1271.8 1377.2 1272.0 1380.2 1273.4 1383.0C1274.8 1385.7 1277.1 1387.9 1279.1 1390.6C1281.2 1393.4 1283.4 1396.6 1285.5 1399.6C1287.6 1402.5 1289.6 1405.7 1291.9 1408.5C1294.2 1411.3 1297.2 1413.8 1299.6 1416.1C1301.9 1418.5 1304.2 1421.1 1305.9 1422.5C1307.6 1423.9 1307.8 1424.3 1309.8 1424.4C1311.7 1424.5 1314.9 1423.3 1317.4 1423.2C1320.0 1423.1 1322.5 1423.4 1325.1 1423.8C1327.6 1424.2 1330.6 1425.6 1332.7 1425.7C1334.9 1425.8 1336.1 1424.3 1337.8 1424.4C1339.5 1424.5 1341.0 1425.5 1342.9 1426.4C1344.9 1427.2 1347.2 1428.8 1349.3 1429.5C1351.5 1430.3 1353.4 1430.2 1355.7 1430.8C1358.1 1431.5 1360.8 1432.5 1363.4 1433.4C1365.9 1434.2 1368.7 1435.2 1371.0 1435.9C1373.4 1436.7 1375.5 1437.2 1377.4 1437.8C1379.3 1438.5 1380.4 1439.5 1382.5 1439.8C1384.6 1440.0 1388.0 1439.4 1390.2 1439.1C1392.3 1438.8 1393.6 1438.3 1395.3 1437.8C1396.9 1437.4 1395.5 1437.4 1400.0 1436.6C1404.5 1435.7 1416.4 1433.6 1422.3 1432.8C1428.1 1432.1 1430.8 1432.5 1435.0 1432.1C1439.3 1431.6 1443.5 1430.8 1447.8 1430.3C1452.0 1429.7 1456.3 1429.3 1460.6 1428.7C1464.8 1428.2 1469.1 1427.8 1473.3 1427.0C1477.6 1426.2 1481.2 1425.0 1486.1 1423.9C1491.0 1422.8 1499.2 1420.9 1502.6 1420.1C1506.0 1419.3 1505.9 1419.3 1506.6 1419.1"/>
</svg>
<text class="tick" transform="translate(132.3 1557.6) scale(1 1.04)">200</text>
<text class="tick" transform="translate(406.4 1557.6) scale(1 1.04)">300</text>
<text class="tick" transform="translate(680.4 1557.6) scale(1 1.04)">400</text>
<text class="tick" transform="translate(954.5 1557.6) scale(1 1.04)">500</text>
<text class="tick" transform="translate(1228.5 1557.6) scale(1 1.04)">600</text>
<text class="tick" transform="translate(1502.6 1557.6) scale(1 1.04)">700</text>
<text x="469.9" y="1662.2" dx="0 -2.2" font-size="67.8">Temperature (degree)</text>
<text transform="translate(79.1 800.5) rotate(-90) scale(1 1.035)" font-size="69.4" text-anchor="middle">Voltage (mV)</text>
<line x1="158.4" y1="78.9" x2="266.1" y2="78.9" stroke="#0000ff" stroke-width="8" stroke-linecap="round"/>
<text class="leg" transform="translate(278.6 95.0) scale(1 1.04)" xml:space="preserve">(a) ZnFe<tspan class="sub" dy="17.6">2</tspan><tspan dy="-17.6">O</tspan><tspan class="sub" dy="17.6">4</tspan><tspan dy="-17.6" dx="-1.3"> GN=1.5</tspan></text>
<line x1="158.4" y1="153.9" x2="266.1" y2="153.9" stroke="#008080" stroke-width="8" stroke-linecap="round"/>
<text class="leg" transform="translate(278.6 169.9) scale(1 1.04)" xml:space="preserve">(b) ZnFe<tspan class="sub" dy="17.6">2</tspan><tspan dy="-17.6">O</tspan><tspan class="sub" dy="17.6">4</tspan><tspan dy="-17.6" dx="-1.3"> GN=1.7</tspan></text>
<line x1="158.4" y1="228.7" x2="266.1" y2="228.7" stroke="#ff0000" stroke-width="8" stroke-linecap="round"/>
<text class="leg" transform="translate(278.6 245.0) scale(1 1.04)" xml:space="preserve">(c) ZnO-ZnFe<tspan class="sub" dy="17.6">2</tspan><tspan dy="-17.6">O</tspan><tspan class="sub" dy="17.6">4</tspan><tspan dy="-17.6" dx="-1.3"> GN=1.5</tspan></text>
<line x1="158.4" y1="303.8" x2="266.1" y2="303.8" stroke="#000000" stroke-width="8" stroke-linecap="round"/>
<text class="leg" transform="translate(278.6 320.3) scale(1 1.04)" xml:space="preserve">(d) ZnO-ZnFe<tspan class="sub" dy="17.6">2</tspan><tspan dy="-17.6">O</tspan><tspan class="sub" dy="17.6">4</tspan><tspan dy="-17.6" dx="-1.3"> GN=1.7</tspan></text>
</svg>
</body>
</html>
